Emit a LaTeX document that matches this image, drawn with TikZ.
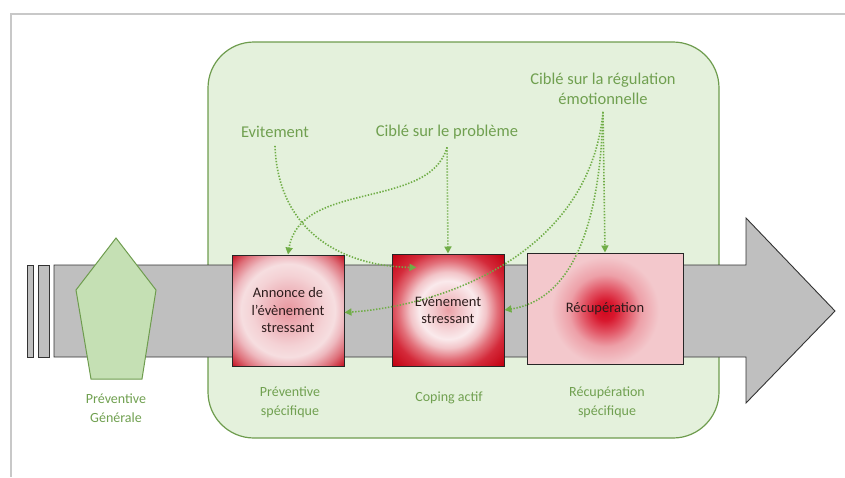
\documentclass[tikz,border=0pt]{standalone}
\usepackage{fontspec}
\setmainfont{Carlito}
\usetikzlibrary{arrows.meta}
\definecolor{gfill}{RGB}{228,241,220}
\definecolor{gline}{RGB}{110,156,78}
\definecolor{gtext}{RGB}{112,160,80}
\definecolor{garrow}{RGB}{112,173,71}
\definecolor{pfill}{RGB}{197,224,180}
\definecolor{bandc}{RGB}{191,191,191}
\definecolor{frame}{RGB}{200,200,200}
% box 1
\definecolor{A0}{RGB}{232,150,158}
\definecolor{A1}{RGB}{238,182,188}
\definecolor{A2}{RGB}{244,210,213}
\definecolor{A3}{RGB}{246,222,224}
\definecolor{A4}{RGB}{238,184,190}
\definecolor{A5}{RGB}{222,112,122}
\definecolor{A6}{RGB}{198,22,38}
% box 2
\definecolor{B0}{RGB}{235,160,166}
\definecolor{B1}{RGB}{242,198,202}
\definecolor{B2}{RGB}{250,234,236}
\definecolor{B3}{RGB}{242,196,200}
\definecolor{B4}{RGB}{226,110,120}
\definecolor{B5}{RGB}{212,42,58}
\definecolor{B6}{RGB}{194,0,16}
% box 3
\definecolor{Cpink}{RGB}{243,200,204}
\definecolor{C0}{RGB}{210,8,30}
\definecolor{C1}{RGB}{216,24,46}
\definecolor{C2}{RGB}{226,84,100}
\definecolor{C3}{RGB}{237,160,168}
\definecolor{btext}{RGB}{45,28,28}
\pgfdeclareradialshading{shadeA}{\pgfpoint{0bp}{0bp}}{color(0bp)=(A0); color(9bp)=(A1); color(16bp)=(A2); color(21bp)=(A3); color(25bp)=(A4); color(30bp)=(A5); color(35bp)=(A6); color(50bp)=(A6)}
\pgfdeclareradialshading{shadeB}{\pgfpoint{0bp}{0bp}}{color(0bp)=(B0); color(6bp)=(B1); color(13bp)=(B2); color(17bp)=(B3); color(22bp)=(B4); color(27bp)=(B5); color(35bp)=(B6); color(50bp)=(B6)}
\pgfdeclareradialshading{blob}{\pgfpoint{0bp}{0bp}}{color(0bp)=(C0); color(2.5bp)=(C1); color(5.5bp)=(C2); color(9bp)=(C3); color(13.5bp)=(Cpink); color(50bp)=(Cpink)}
\tikzset{
  glabel/.style={text=gtext, font=\fontsize{16.5}{20}\selectfont, inner sep=0pt, align=center},
  blabel/.style={text=gtext, font=\fontsize{14}{19}\selectfont, inner sep=0pt, align=center},
  boxtext/.style={text=btext, font=\fontsize{14.5}{17.5}\selectfont, align=center},
  evbox/.style={draw=black!85, line width=1pt, inner sep=0pt},
  garr/.style={draw=garrow, line width=1.6pt, dash pattern=on 1.4pt off 1.6pt, -{Triangle[length=7pt,width=7pt]}, fill=none},
}
\begin{document}
\begin{tikzpicture}[x=1pt,y=-1pt]
\useasboundingbox (0,0) rectangle (845,477);
% screenshot frame
\draw[frame, line width=2pt] (845,14) -- (11,14) -- (11,477);
% green area
\node[draw=gline, fill=gfill, line width=1.2pt, rounded corners=46pt, minimum width=511pt, minimum height=396pt, inner sep=0pt] (zone) at (463.5,240) {};
% band arrow
\draw[fill=bandc, draw=black!80, line width=0.9pt] (54,265) -- (746,265) -- (746,218) -- (835,311) -- (746,403) -- (746,357) -- (54,357) -- cycle;
\draw[fill=bandc, draw=black!80, line width=0.9pt] (27,265) rectangle (33,357);
\draw[fill=bandc, draw=black!80, line width=0.9pt] (38,265) rectangle (49,357);
% pentagon
\draw[fill=pfill, draw=gline, line width=1pt] (116,238) -- (156,290) -- (142,379) -- (91,379) -- (76,290) -- cycle;
\node[blabel] (pg) at (116,408) {Préventive\\Générale};
% boxes
\node[evbox, shading=shadeA, minimum width=112pt, minimum height=111pt] (box1) at (288,310.5) {};
\node[boxtext] (t1) at (box1.center) {Annonce de\\l’évènement\\stressant};
\node[evbox, shading=shadeB, minimum width=112pt, minimum height=112pt] (box2) at (448,310) {};
\node[boxtext] (t2) at (box2.center) {Evénement\\stressant};
\node[evbox, fill=Cpink, minimum width=156pt, minimum height=111pt,
  path picture={\shade[shading=blob] ([yshift=-2pt]path picture bounding box.center) circle (100pt);}] (box3) at (605,308.5) {};
\node[boxtext] (t3) at (box3.center) {Récupération};
% top labels
\node[glabel] (evit) at (275,132) {Evitement};
\node[glabel] (prob) at (447,132) {Ciblé sur le problème};
\node[glabel] (emo) at (603,89) {Ciblé sur la régulation\\émotionnelle};
% bottom labels
\node[blabel] (ps) at (290,402) {Préventive\\spécifique};
\node[blabel] (ca) at (449,398) {Coping actif};
\node[blabel] (rs) at (607,402) {Récupération\\spécifique};
% arrows
\draw[garr] ([yshift=-8pt]evit.south) .. controls (278,230) and (340,266) .. ([shift={(25,14)}]box2.north west) coordinate (e1);
\draw[garr] ([yshift=-8pt]prob.south) .. controls (430,210) and (300,180) .. (box1.north);
\draw[garr] ([yshift=-8pt]prob.south) -- (box2.north);
\draw[garr] ([yshift=-7pt]emo.south) -- (box3.north);
\draw[garr] ([yshift=-7pt]emo.south) .. controls (590,250) and (450,305) .. ([yshift=-2pt]box1.east);
\draw[garr] ([yshift=-7pt]emo.south) .. controls (600,230) and (570,300) .. (box2.east);
\end{tikzpicture}
\end{document}
